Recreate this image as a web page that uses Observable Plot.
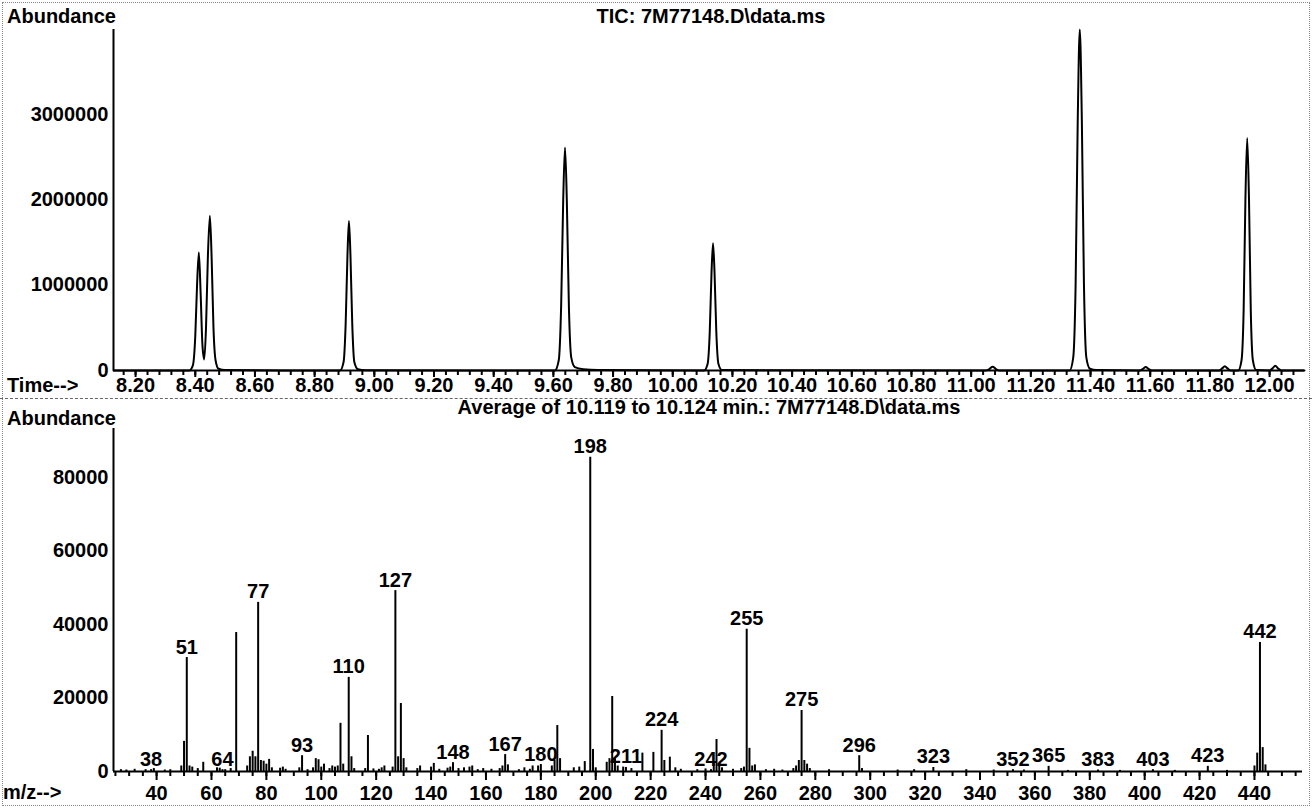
<!DOCTYPE html>
<html>
<head>
<meta charset="utf-8">
<script src="https://cdn.jsdelivr.net/npm/d3@7"></script>
<script src="https://cdn.jsdelivr.net/npm/@observablehq/plot@0.6"></script>
<style>
  html, body { margin: 0; padding: 0; background: #fff; }
  #wrap { position: relative; width: 1312px; height: 808px; overflow: hidden;
          font-family: "Liberation Sans", Arial, sans-serif; font-weight: bold; font-size: 20px; color: #000; }
  #wrap svg { position: absolute; left: 0; }
  .lbl { position: absolute; line-height: 16px; white-space: nowrap; }
  .ctr { transform: translateX(-50%); }
  .sep { position: absolute; left: 0; width: 1312px; border-top: 1px dashed #666; }
  .frame { position: absolute; left: 2px; top: 2px; width: 1306px; height: 802px; border: 1px dotted #888; }
</style>
</head>
<body>
<div id="wrap">
  <div class="frame"></div>
  <div class="sep" style="top:398px"></div>
  <div id="top"></div>
  <div id="bottom"></div>
  <div class="lbl" style="left:7px;top:8px">Abundance</div>
  <div class="lbl ctr" style="left:711px;top:8px">TIC: 7M77148.D\data.ms</div>
  <div class="lbl" style="left:7px;top:377px">Time--&gt;</div>
  <div class="lbl" style="left:7px;top:410px">Abundance</div>
  <div class="lbl ctr" style="left:709px;top:399px">Average of 10.119 to 10.124 min.: 7M77148.D\data.ms</div>
  <div class="lbl" style="left:3px;top:784px">m/z--&gt;</div>
</div>
<script>
// ---- TIC chromatogram (time in min, abundance) ----
const ticTime = [
  8.126, 8.380, 8.392, 8.400, 8.406, 8.412, 8.418, 8.424, 8.430, 8.436, 8.442, 8.449, 8.455, 8.461, 8.468, 8.478, 8.500,
  8.885, 8.897, 8.904, 8.910, 8.915, 8.920, 8.926, 8.933, 8.945, 8.970,
  9.605, 9.618, 9.626, 9.633, 9.639, 9.645, 9.652, 9.660, 9.672, 9.700, 9.750,
  10.105, 10.117, 10.124, 10.130, 10.135, 10.140, 10.146, 10.153, 10.165,
  11.050, 11.062, 11.072, 11.082, 11.094,
  11.330, 11.342, 11.350, 11.357, 11.364, 11.371, 11.378, 11.386, 11.398, 11.420,
  11.565, 11.576, 11.585, 11.594, 11.605,
  11.830, 11.841, 11.850, 11.859, 11.870,
  11.895, 11.906, 11.913, 11.919, 11.925, 11.931, 11.937, 11.944, 11.955,
  12.000, 12.010, 12.019, 12.028, 12.040, 12.117
];
const ticAbund = [
  0, 0, 60000, 400000, 1000000, 1380000, 900000, 300000, 130000, 500000, 1300000, 1810000, 1300000, 500000, 120000, 20000, 5000,
  0, 100000, 550000, 1350000, 1750000, 1350000, 550000, 100000, 15000, 3000,
  0, 120000, 750000, 2000000, 2610000, 2000000, 750000, 150000, 40000, 15000, 5000,
  0, 80000, 450000, 1150000, 1490000, 1150000, 450000, 80000, 5000,
  0, 20000, 45000, 20000, 0,
  0, 150000, 1000000, 2900000, 3990000, 2900000, 1000000, 150000, 20000, 5000,
  0, 20000, 40000, 20000, 0,
  0, 25000, 50000, 25000, 0,
  0, 120000, 700000, 2000000, 2720000, 2000000, 700000, 120000, 5000,
  0, 25000, 55000, 25000, 0, 0
];
const timeTicks = [8.20, 8.40, 8.60, 8.80, 9.00, 9.20, 9.40, 9.60, 9.80, 10.00, 10.20, 10.40, 10.60, 10.80, 11.00, 11.20, 11.40, 11.60, 11.80, 12.00];
const ticYTicks = [0, 1000000, 2000000, 3000000];

// ---- Mass spectrum (m/z, abundance) ----
const msMz = [
  27, 29, 32, 36, 38, 39, 43, 45, 49, 50, 51, 52, 53, 55, 57, 62, 63, 64, 65, 67, 69, 73, 74, 75, 76, 77, 78, 79, 80, 81, 82,
  85, 86, 87, 92, 93, 95, 97, 98, 99, 100, 101, 103, 104, 105, 106, 107, 108, 110, 111, 112, 116, 117, 119, 121, 122, 123,
  126, 127, 128, 129, 130, 131, 135, 136, 140, 141, 143, 146, 147, 148, 150, 152, 154, 155, 157, 159, 162, 165, 166, 167,
  168, 172, 174, 176, 177, 179, 180, 184, 185, 186, 187, 192, 194, 196, 198, 199, 200, 204, 205, 206, 207, 208, 210, 211,
  213, 217, 221, 224, 225, 227, 229, 231, 237, 240, 242, 243, 244, 245, 246, 250, 253, 254, 255, 256, 257, 258, 262, 265,
  268, 272, 273, 274, 275, 276, 277, 278, 285, 296, 297, 310, 316, 323, 335, 345, 352, 356, 365, 372, 383, 391, 403, 411,
  423, 430, 440, 441, 442, 443, 444
];
const msAbund = [
  500, 400, 600, 500, 500, 800, 400, 500, 1500, 8200, 31000, 1500, 1200, 800, 2500, 1000, 900, 500, 500, 800, 37800, 1500, 4000, 5500, 4000, 46000, 3000, 2800, 2000, 3300, 1000,
  900, 1200, 600, 1000, 4300, 500, 1000, 3500, 3200, 1200, 2000, 800, 1500, 1200, 1500, 13100, 2000, 25600, 4000, 800, 800, 9800, 700, 600, 1000, 1500,
  1200, 49200, 4000, 18500, 3500, 1000, 800, 1500, 1200, 2200, 600, 900, 1200, 2400, 800, 1000, 1200, 1500, 500, 800, 600, 800, 1500, 4600,
  1800, 500, 1000, 600, 1500, 1500, 1900, 1500, 3000, 12500, 3500, 1000, 1200, 2700, 85500, 6000, 1000, 2500, 3500, 20400, 3500, 1500, 1200, 1100,
  800, 5000, 5200, 11200, 3000, 3900, 1000, 600, 500, 700, 500, 2500, 8700, 2000, 1000, 600, 800, 1200, 38700, 6300, 1500, 1800, 500, 600,
  400, 800, 1500, 3000, 16600, 3000, 2000, 800, 500, 4300, 800, 400, 500, 1100, 500, 400, 500, 400, 1400, 300, 400, 300, 500, 300,
  1400, 300, 1500, 5000, 35100, 6500, 1800
];
const msLabels = [38, 51, 64, 77, 93, 110, 127, 148, 167, 180, 198, 211, 224, 242, 255, 275, 296, 323, 352, 365, 383, 403, 423, 442];
const mzTicks = [40, 60, 80, 100, 120, 140, 160, 180, 200, 220, 240, 260, 280, 300, 320, 340, 360, 380, 400, 420, 440];
const msYTicks = [0, 20000, 40000, 60000, 80000];

const FONT = {fontFamily: "'Liberation Sans', Arial, sans-serif", fontSize: "20px", fontWeight: "bold", color: "#000", background: "transparent", overflow: "visible"};

const tic = ticTime.map((t, i) => ({t, a: ticAbund[i]}));
const timeDomain = [8.126, 12.117];
const timeMinor = d3.range(8.16, 12.10, 0.04).map(v => +v.toFixed(2));

const topPlot = Plot.plot({
  width: 1312, height: 400,
  marginLeft: 113, marginRight: 8, marginTop: 29, marginBottom: 30,
  style: FONT,
  x: {domain: timeDomain, label: null},
  y: {domain: [0, 3990000], label: null},
  marks: [
    Plot.axisX({ticks: timeMinor, tickSize: 5, tickFormat: () => "", strokeWidth: 2, label: null}),
    Plot.axisX({ticks: timeTicks, tickSize: 7, tickPadding: 0, tickFormat: d => d.toFixed(2), strokeWidth: 2, label: null, fontSize: 20, fontWeight: "bold"}),
    Plot.axisY({ticks: ticYTicks, tickSize: 0, tickPadding: 5, tickFormat: d => String(d), label: null, fontSize: 20, fontWeight: "bold"}),
    Plot.ruleX([timeDomain[0]], {stroke: "#000", strokeWidth: 2}),
    Plot.line(tic, {x: "t", y: "a", curve: "monotone-x", stroke: "#000", strokeWidth: 2}),
    Plot.ruleY([0], {stroke: "#000", strokeWidth: 2})
  ]
});
topPlot.style.top = "0px";
document.getElementById("top").appendChild(topPlot);

const ms = msMz.map((m, i) => ({mz: m, v: msAbund[i]}));
const labeled = ms.filter(d => msLabels.includes(d.mz));
const mzDomain = [24.3, 457.5];
const mzMinor = d3.range(25, 456, 5);

const bottomPlot = Plot.plot({
  width: 1312, height: 408,
  marginLeft: 113, marginRight: 10, marginTop: 28, marginBottom: 37,
  style: FONT,
  x: {domain: mzDomain, label: null},
  y: {domain: [0, 93300], label: null},
  marks: [
    Plot.axisX({ticks: mzMinor, tickSize: 5, tickFormat: () => "", strokeWidth: 2, label: null}),
    Plot.axisX({ticks: mzTicks, tickSize: 9, tickPadding: 5, tickFormat: d => String(d), strokeWidth: 2, label: null, fontSize: 20, fontWeight: "bold"}),
    Plot.axisY({ticks: msYTicks, tickSize: 0, tickPadding: 5, tickFormat: d => String(d), label: null, fontSize: 20, fontWeight: "bold"}),
    Plot.ruleX([mzDomain[0]], {stroke: "#000", strokeWidth: 2}),
    Plot.ruleX(ms, {x: "mz", y1: 0, y2: "v", stroke: "#000", strokeWidth: 2}),
    Plot.ruleY([0], {stroke: "#000", strokeWidth: 2}),
    Plot.text(labeled, {x: "mz", y: "v", text: d => String(d.mz), lineAnchor: "bottom", dy: -4, fontSize: 20, fontWeight: "bold", fill: "#000"})
  ]
});
bottomPlot.style.top = "400px";
document.getElementById("bottom").appendChild(bottomPlot);
</script>
</body>
</html>
